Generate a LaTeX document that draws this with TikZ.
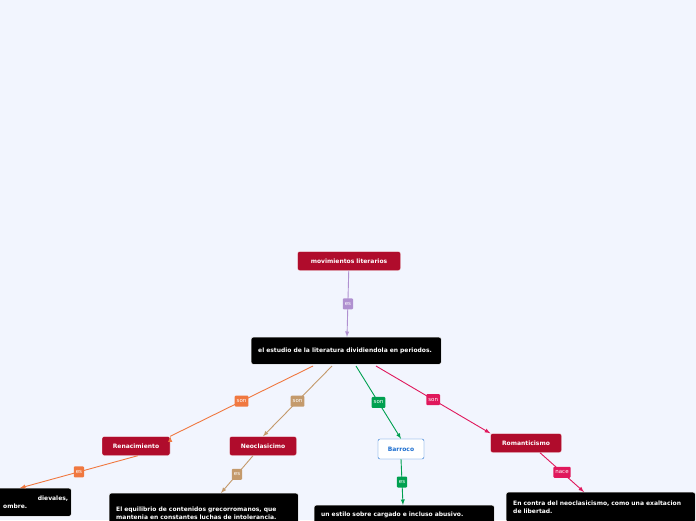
\documentclass[tikz,border=0pt]{standalone}
\usepackage{fontspec}
\setmainfont{DejaVu Sans}
\begin{document}
\begin{tikzpicture}[x=1pt,y=-1pt,
 red/.style={fill=myred,draw=white,rounded corners=2pt,text=white,font=\bfseries\fontsize{6}{7}\selectfont,minimum height=19pt,inner xsep=6pt},
 blk/.style={fill=black,draw=white,rounded corners=2pt,text=white,font=\bfseries\fontsize{6}{7.5}\selectfont,align=left,anchor=north west,inner xsep=7pt,inner ysep=5pt,text width=#1},
 lab/.style={fill=#1,text=white,font=\fontsize{5.5}{6}\selectfont,rounded corners=1pt,inner sep=2pt,minimum height=11pt},
 con/.style={draw=#1,line width=0.9pt,-latex}]
\definecolor{myred}{HTML}{B00C2C}
\definecolor{bg}{HTML}{F2F5FE}
\definecolor{cor}{HTML}{F07840}
\definecolor{ctan}{HTML}{C49A6C}
\definecolor{cgr}{HTML}{00A050}
\definecolor{cpk}{HTML}{E0185C}
\definecolor{cpu}{HTML}{B090D0}
\definecolor{cbl}{HTML}{1E6FD0}
\useasboundingbox (0,0) rectangle (696,520);
\clip (0,0) rectangle (696,520);
\fill[bg] (0,0) rectangle (696,520);
\node[red,minimum width=103pt] (mov) at (349,261) {movimientos literarios};
\node[blk=176pt,minimum height=27pt] (main) at (251,337) {el estudio de la literatura dividiendola en periodos.};
\node[red,minimum width=68pt] (ren) at (136,446) {Renacimiento};
\node[red,minimum width=67pt] (neo) at (263,446) {Neoclasicimo};
\node[fill=white,draw=cbl,rounded corners=2pt,text=cbl,font=\bfseries\fontsize{6}{7}\selectfont,minimum height=20pt,minimum width=46pt] (bar) at (401,449) {Barroco};
\node[red,minimum width=71pt] (rom) at (526,443) {Romanticismo};
\node[blk=70pt,minimum height=28pt,inner xsep=3pt] (b1) at (-5,488) {\hfill dievales,\\\hspace*{5pt}ombre.};
\node[blk=175pt,minimum height=40pt] (b2) at (109,493) {El equilibrio de contenidos grecorromanos, que mantenia en constantes luchas de intolerancia.};
\node[blk=166pt,minimum height=20pt] (b3) at (314,505) {un estilo sobre cargado e incluso abusivo.};
\node[blk=175pt,minimum height=30pt] (b4) at (506,492) {En contra del neoclasicismo, como una exaltacion de libertad.};
\draw[con=cpu] (mov) -- node[lab=cpu]{es} (main.north -| 347,0);
\draw[con=cor] (313,366) -- node[lab=cor]{son} (ren.north east) ++(0,0);
\draw[con=ctan] (332,366) -- node[lab=ctan]{son} (neo.north);
\draw[con=cgr] (356,366) -- node[lab=cgr]{son} (bar.north);
\draw[con=cpk] (376,366) -- node[lab=cpk]{son} (rom.north west);
\draw[con=cor] (ren.south west) ++(36,0) -- node[lab=cor]{es} (20,488);
\draw[con=ctan] (neo.south) ++(-10,0) -- node[lab=ctan]{es} (221,493);
\draw[con=cgr] (bar.south) -- node[lab=cgr]{es} (403,505);
\draw[con=cpk] (rom.south) ++(14,0) -- node[lab=cpk]{nace} (584,492);
\end{tikzpicture}
\end{document}
